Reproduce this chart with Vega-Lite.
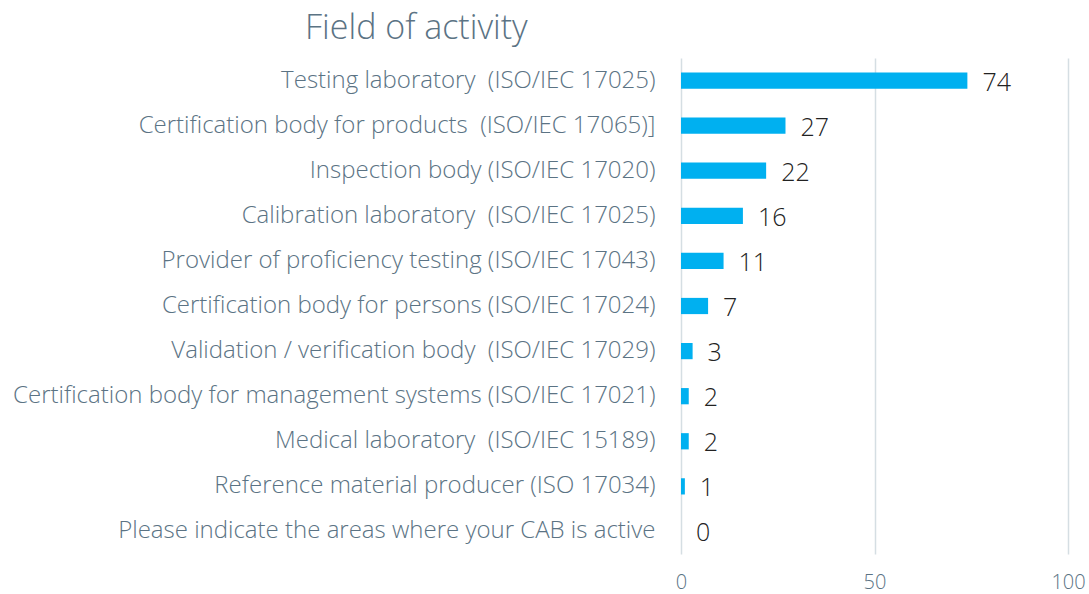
{
  "$schema": "https://vega.github.io/schema/vega-lite/v6.json",
  "width": 387,
  "height": 496,
  "autosize": "none",
  "padding": {"left": 681, "top": 58, "right": 21, "bottom": 40},
  "background": "white",
  "title": {
    "text": "Field of activity",
    "anchor": "start",
    "frame": "group",
    "dx": -376,
    "dy": 35,
    "offset": 20,
    "baseline": "alphabetic",
    "font": "Open Sans",
    "fontSize": 34,
    "fontWeight": 300,
    "color": "#5B7384"
  },
  "data": {
    "values": [
      {"field": "Testing laboratory\u00a0 (ISO/IEC 17025)", "count": 74},
      {"field": "Certification body for products\u00a0 (ISO/IEC 17065)]", "count": 27},
      {"field": "Inspection body (ISO/IEC 17020)", "count": 22},
      {"field": "Calibration laboratory\u00a0 (ISO/IEC 17025)", "count": 16},
      {"field": "Provider of proficiency testing (ISO/IEC 17043)\u2004", "count": 11},
      {"field": "Certification body for persons (ISO/IEC 17024)", "count": 7},
      {"field": "Validation / verification body\u00a0 (ISO/IEC 17029)", "count": 3},
      {"field": "Certification body for management systems (ISO/IEC 17021)", "count": 2},
      {"field": "Medical laboratory\u00a0 (ISO/IEC 15189)", "count": 2},
      {"field": "Reference material producer (ISO 17034)", "count": 1},
      {"field": "Please indicate the areas where your CAB is active\u2004", "count": 0}
    ]
  },
  "encoding": {
    "y": {
      "field": "field",
      "type": "nominal",
      "sort": null,
      "title": null,
      "scale": {"paddingInner": 0.64, "paddingOuter": 0.32},
      "axis": {
        "domain": false,
        "ticks": false,
        "grid": false,
        "labelPadding": 26,
        "labelFont": "Open Sans",
        "labelFontSize": 24,
        "labelFontWeight": 300,
        "labelColor": "#5B7384",
        "labelLimit": 700
      }
    },
    "x": {
      "field": "count",
      "type": "quantitative",
      "title": null,
      "scale": {"domain": [0, 100], "nice": false},
      "axis": {
        "values": [0, 50, 100],
        "domain": false,
        "ticks": false,
        "grid": true,
        "gridColor": "#D5DEE3",
        "gridWidth": 1.5,
        "labelFlush": false,
        "labelPadding": 18,
        "labelFont": "Open Sans",
        "labelFontSize": 20,
        "labelFontWeight": 300,
        "labelColor": "#5B7384",
        "labelBaseline": "top"
      }
    }
  },
  "layer": [
    {"mark": {"type": "bar", "color": "#00B0F0"}},
    {
      "mark": {
        "type": "text",
        "align": "left",
        "baseline": "middle",
        "dx": 15,
        "dy": 2,
        "font": "Open Sans",
        "fontSize": 25,
        "fontWeight": 300,
        "color": "#222222"
      },
      "encoding": {"text": {"field": "count", "type": "quantitative"}}
    }
  ],
  "config": {"view": {"stroke": null}}
}
